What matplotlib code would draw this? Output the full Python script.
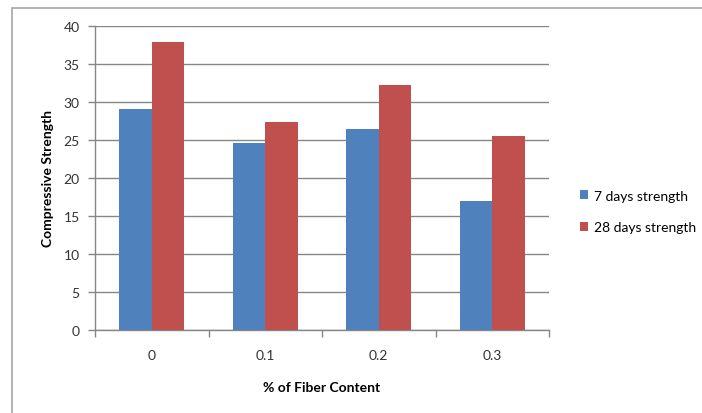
import matplotlib
matplotlib.use("Agg")
import matplotlib.pyplot as plt
import numpy as np
from matplotlib.patches import Rectangle

categories = ["0", "0.1", "0.2", "0.3"]
series_names = ["7 days strength", "28 days strength"]
strength_7 = [29.1, 24.6, 26.4, 17.0]
strength_28 = [37.9, 27.3, 32.2, 25.5]
y_ticks = [0, 5, 10, 15, 20, 25, 30, 35, 40]

plt.rcParams['font.family'] = ['Lato', 'DejaVu Sans']

W, H = 702, 414
fig = plt.figure(figsize=(W/100, H/100), dpi=100)

# outer border
fig.patches.append(Rectangle((12/W, -0.05), 1.2, 1 - 9/H + 0.05, transform=fig.transFigure,
                             fill=False, edgecolor='#a6a6a6', linewidth=1.2))

ax = fig.add_axes([95/W, 1 - 331/H, (549-95)/W, (331-26.7)/H])

x = np.arange(len(categories))
bw = 1/3.5
ax.bar(x - bw/2, strength_7, bw, color='#4f81bd', label=series_names[0], zorder=3)
ax.bar(x + bw/2, strength_28, bw, color='#c0504d', label=series_names[1], zorder=3)

ax.set_xlim(-0.5, len(categories) - 0.5)
ax.set_ylim(0, 40)
ax.set_yticks(y_ticks)
ax.set_yticklabels([str(v) for v in y_ticks], fontsize=10, color='#333333')
ax.set_xticks(x)
ax.set_xticklabels(categories, fontsize=10, color='#333333')
ax.tick_params(axis='x', length=0, pad=14)
ax.set_xticks(np.arange(-0.5, len(categories)), minor=True)
ax.tick_params(axis='x', which='minor', length=5, color='#868686', width=1)
ax.tick_params(axis='y', length=5, color='#868686', width=1, pad=6)

ax.grid(axis='y', color='#868686', linewidth=1, zorder=0)
ax.set_axisbelow(True)
for s in ['top', 'right']:
    ax.spines[s].set_visible(False)
for s in ['left', 'bottom']:
    ax.spines[s].set_color('#868686')
    ax.spines[s].set_linewidth(1)

ax.set_xlabel("% of Fiber Content", fontsize=10, fontweight='bold', labelpad=14)
ax.set_ylabel("Compressive Strength", fontsize=10, fontweight='bold', labelpad=7)

leg = ax.legend(loc='center left', bbox_to_anchor=(1.04, 0.39), frameon=False,
                fontsize=10, handlelength=0.6, handleheight=0.6, handletextpad=0.4,
                labelspacing=1.4)

fig.savefig("out.png", dpi=100)
